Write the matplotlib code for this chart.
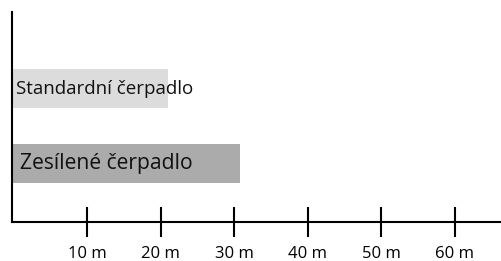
import matplotlib.pyplot as plt

pumps = ['Zesílené čerpadlo', 'Standardní čerpadlo']
reach_m = [30.8, 21.0]
bar_colors = ['#ababab', '#dcdcdc']
label_sizes = [15.2, 13.5]
label_offsets = [0.8, 0.3]

tick_values = [10, 20, 30, 40, 50, 60]
tick_labels = [f'{v} m' for v in tick_values]

plt.rcParams['font.family'] = ['Open Sans', 'DejaVu Sans']

fig = plt.figure(figsize=(5.01, 2.61), dpi=100)
ax = fig.add_axes([12 / 501, 39 / 261, 489 / 501, 210 / 261])

ypos = list(range(len(pumps)))
ax.barh(ypos, [r + 0.27 for r in reach_m], height=0.52, color=bar_colors, left=-0.27)

for y, name, size, off in zip(ypos, pumps, label_sizes, label_offsets):
    ax.text(off, y, name, va='center', ha='left', fontsize=size, color='#111111')

ax.set_xlim(-0.27, 66.3)
ax.set_ylim(-0.79, 2.03)
ax.set_yticks([])
ax.set_xticks(tick_values)
ax.set_xticklabels(tick_labels, fontsize=12)
ax.tick_params(axis='x', direction='inout', length=21, width=1.5, pad=6.5)

for side in ['top', 'right']:
    ax.spines[side].set_visible(False)
for side in ['left', 'bottom']:
    ax.spines[side].set_linewidth(1.5)
    ax.spines[side].set_color('black')

fig.savefig('out.png', dpi=100)
